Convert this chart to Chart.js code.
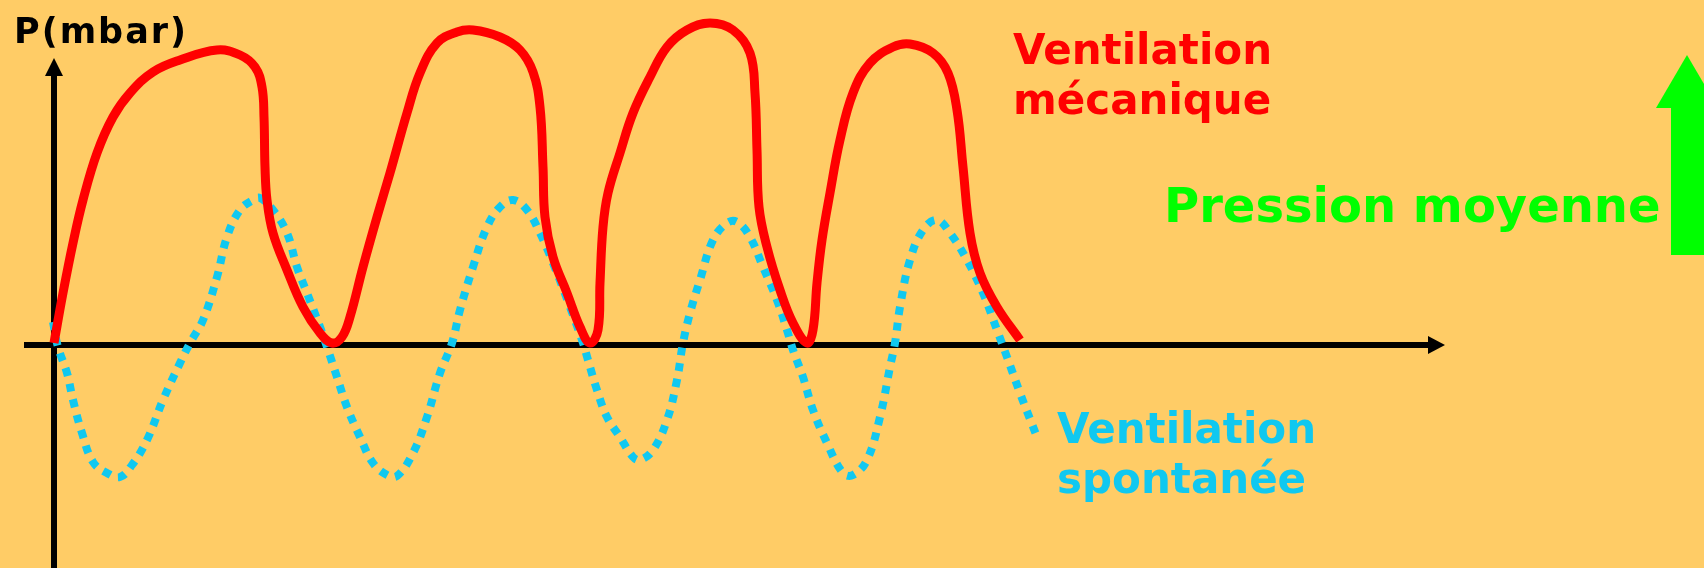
<!DOCTYPE html>
<html>
<head>
<meta charset="utf-8">
<script src="https://cdn.jsdelivr.net/npm/chart.js@4"></script>
<style>
  body { margin: 0; background: #ffcc66; }
</style>
</head>
<body>
<canvas id="grafico" width="1704" height="568"></canvas>
<script>
// ventilation mécanique (rouge)
const tMeca = [0, 0.9, 1.9, 2.9, 4.3, 5.9, 7.6, 9.9, 12.6, 16.3, 18.6, 20.1, 20.8, 21.0, 21.1, 21.3, 21.9, 23.3, 24.9, 26.6, 27.8,
  28.8, 29.6, 30.9, 32.3, 33.6, 35.3, 36.6, 38.3, 40.3, 41.9, 44.6, 46.6, 47.9, 48.6, 48.9, 49.1, 49.9, 51.3, 52.6, 53.6,
  54.4, 54.6, 54.9, 55.4, 56.6, 57.9, 59.6, 61.3, 63.3, 65.6, 67.9, 69.6, 70.1, 70.3, 70.5, 71.3, 72.6, 73.9, 75.3,
  75.9, 76.3, 76.8, 77.6, 78.6, 79.9, 81.6, 83.9, 85.6, 87.9, 89.4, 90.3, 90.9, 91.6, 92.6, 94.3, 96.6];
const pMeca = [0.2, 5.2, 10.2, 14.5, 19.2, 22.8, 25.2, 27.3, 28.5, 29.5, 29.0, 27.8, 25.8, 22.8, 17.8, 14.5, 11.2, 7.5, 3.8, 1.2, 0.2,
  0.8, 2.8, 7.8, 12.8, 17.2, 23.2, 27.2, 30.2, 31.3, 31.5, 30.8, 29.5, 27.3, 23.8, 17.8, 12.8, 8.8, 5.2, 1.8, 0.2,
  1.5, 6.2, 11.8, 15.2, 19.2, 23.2, 26.8, 29.8, 31.5, 32.2, 31.5, 29.2, 25.2, 19.5, 13.8, 9.8, 5.5, 2.2, 0.2,
  1.5, 6.2, 10.5, 15.2, 20.5, 25.2, 28.2, 29.8, 30.1, 29.2, 27.2, 23.5, 17.8, 11.2, 7.2, 3.8, 0.5];

// ventilation spontanée (bleu, pointillé)
const tSpont = [-0.1, 0.4, 1.3, 1.9, 2.8, 3.9, 5.3, 6.6, 7.8, 9.3, 10.9, 12.6, 13.6, 14.9, 16.3, 17.3, 18.6, 19.9, 20.6,
  21.9, 23.3, 24.3, 25.3, 26.6, 27.3, 28.3, 29.3, 30.6, 31.9, 33.3, 34.3, 35.9, 37.3, 38.6, 39.8, 40.6, 41.9, 43.3, 44.6, 45.9,
  47.3, 48.6, 49.9, 51.6, 52.9, 53.4, 54.3, 55.3, 56.6, 57.9, 58.6, 59.9, 61.3, 62.3, 62.9, 63.6, 64.6, 65.9, 67.3, 68.3,
  69.6, 70.9, 72.3, 73.3, 73.9, 74.9, 75.9, 77.3, 78.9, 79.9, 81.3, 82.6, 83.6, 84.1, 84.6, 85.6, 86.9, 88.3,
  89.6, 91.3, 92.9, 94.3, 95.3, 96.6, 98.3];
const pSpont = [2.3, -0.2, -2.8, -5.5, -8.8, -11.7, -12.8, -13.2, -12.0, -9.5, -5.5, -1.8, 0.2, 2.5, 6.8, 10.8, 13.5, 14.5, 14.7,
  13.5, 11.2, 7.8, 5.2, 1.8, -0.2, -3.2, -6.2, -9.2, -11.8, -13.0, -13.1, -10.8, -7.2, -2.8, 0.2, 3.5, 7.8, 11.8, 13.8, 14.5,
  13.5, 11.2, 8.2, 3.8, 0.2, -1.5, -4.5, -7.2, -9.2, -11.2, -11.5, -10.5, -7.5, -3.5, 0.2, 3.2, 6.5, 10.5, 12.2, 12.3,
  10.8, 7.8, 4.5, 1.5, -0.5, -3.2, -6.5, -9.8, -12.8, -13.0, -11.5, -7.2, -2.2, 0.2, 3.8, 8.5, 11.5, 12.5,
  11.2, 8.5, 5.2, 1.5, -1.2, -4.8, -9.2];

// textes
const tituloEje = 'P(mbar)';
const textoMeca = ['Ventilation', 'mécanique'];
const textoSpont = ['Ventilation', 'spontanée'];
const textoMedia = 'Pression moyenne';

const fondo = '#ffcc66';
const rojo = '#ff0000';
const azul = '#10c8f0';
const verde = '#00ff00';

function puntos(t, p) {
  return t.map((v, i) => ({ x: v, y: p[i] }));
}

const dibujo = {
  id: 'dibujo',
  beforeDraw(chart) {
    const ctx = chart.ctx;
    ctx.save();
    ctx.fillStyle = fondo;
    ctx.fillRect(0, 0, chart.width, chart.height);
    ctx.restore();
  },
  beforeDatasetsDraw(chart) {
    const ctx = chart.ctx;
    const sx = chart.scales.x, sy = chart.scales.y;
    const x0 = sx.getPixelForValue(0), y0 = sy.getPixelForValue(0);
    ctx.save();
    ctx.strokeStyle = '#000';
    ctx.fillStyle = '#000';
    ctx.lineWidth = 6;
    // eje horizontal
    const xEnd = sx.getPixelForValue(137.4), xTip = sx.getPixelForValue(139.1);
    ctx.beginPath();
    ctx.moveTo(sx.getPixelForValue(-3), y0);
    ctx.lineTo(xEnd + 2, y0);
    ctx.stroke();
    ctx.beginPath();
    ctx.moveTo(xEnd, y0 - 9);
    ctx.lineTo(xTip, y0);
    ctx.lineTo(xEnd, y0 + 9);
    ctx.closePath();
    ctx.fill();
    // eje vertical
    const yEnd = sy.getPixelForValue(26.9), yTip = sy.getPixelForValue(28.7);
    ctx.beginPath();
    ctx.moveTo(x0, chart.height);
    ctx.lineTo(x0, yEnd - 2);
    ctx.stroke();
    ctx.beginPath();
    ctx.moveTo(x0 - 9, yEnd);
    ctx.lineTo(x0, yTip);
    ctx.lineTo(x0 + 9, yEnd);
    ctx.closePath();
    ctx.fill();
    ctx.restore();
  },
  afterDatasetsDraw(chart) {
    const ctx = chart.ctx;
    ctx.save();
    ctx.textAlign = 'left';
    ctx.textBaseline = 'alphabetic';

    ctx.fillStyle = '#000';
    ctx.font = 'bold 35px "DejaVu Sans"';
    ctx.letterSpacing = '2px';
    ctx.fillText(tituloEje, 14, 43);
    ctx.letterSpacing = '0px';

    ctx.fillStyle = rojo;
    ctx.font = 'bold 42px "DejaVu Sans"';
    ctx.fillText(textoMeca[0], 1013, 64);
    ctx.fillText(textoMeca[1], 1013, 114);

    ctx.fillStyle = azul;
    ctx.fillText(textoSpont[0], 1057, 443);
    ctx.fillText(textoSpont[1], 1057, 493);

    ctx.fillStyle = verde;
    ctx.font = 'bold 48px "DejaVu Sans"';
    ctx.fillText(textoMedia, 1164, 222);

    // flecha verde
    ctx.fillRect(1671, 106, 33, 149);
    ctx.beginPath();
    ctx.moveTo(1656, 108);
    ctx.lineTo(1687, 55);
    ctx.lineTo(1718, 108);
    ctx.closePath();
    ctx.fill();
    ctx.restore();
  }
};

new Chart(document.getElementById('grafico'), {
  type: 'line',
  data: {
    datasets: [
      {
        label: 'Ventilation mécanique',
        data: puntos(tMeca, pMeca),
        borderColor: rojo,
        borderWidth: 9,
        borderJoinStyle: 'round',
        borderCapStyle: 'butt',
        tension: 0.4,
        pointRadius: 0,
        clip: false
      },
      {
        label: 'Ventilation spontanée',
        data: puntos(tSpont, pSpont),
        borderColor: azul,
        borderWidth: 8,
        borderDash: [8, 8],
        borderCapStyle: 'butt',
        tension: 0.4,
        pointRadius: 0,
        clip: false
      }
    ]
  },
  options: {
    responsive: false,
    animation: false,
    layout: { autoPadding: false, padding: 0 },
    plugins: { legend: { display: false }, tooltip: { enabled: false } },
    scales: {
      x: { type: 'linear', min: -5.4, max: 165, display: false },
      y: { type: 'linear', min: -22.3, max: 34.5, display: false }
    }
  },
  plugins: [dibujo]
});
</script>
</body>
</html>
